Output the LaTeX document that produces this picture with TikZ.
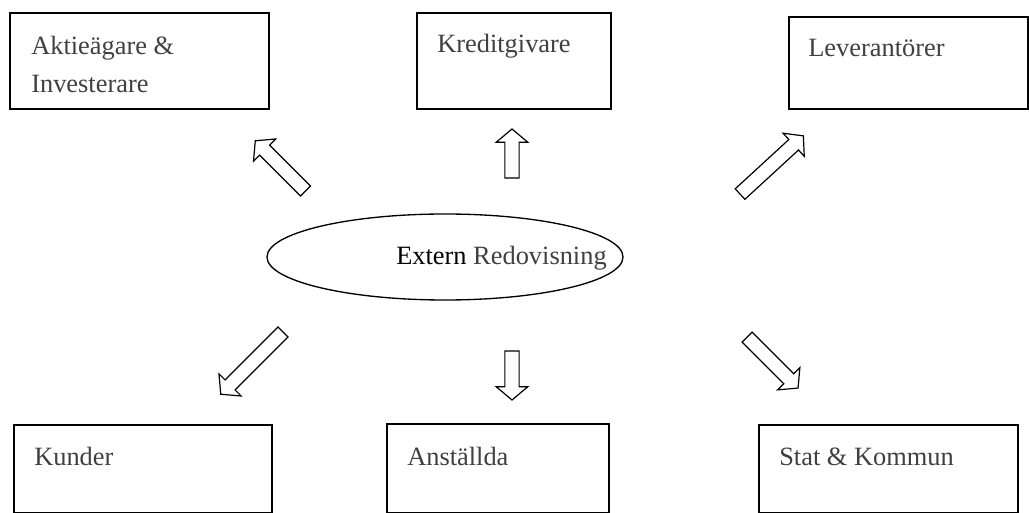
\documentclass[tikz,border=0pt]{standalone}
\usepackage{fontspec}
\setmainfont{Liberation Serif}
\usetikzlibrary{shapes.arrows,shapes.geometric}

\begin{document}
\begin{tikzpicture}[x=0.75pt, y=-0.75pt,
  box/.style={draw, line width=1.2pt, anchor=north west, inner sep=0pt},
  txt/.style={text=black!75, font=\fontsize{19.8}{28.5}\selectfont, anchor=base west, inner sep=0pt, align=left},
  blockarrow/.style={draw, single arrow, line width=0.9pt, inner xsep=0pt, inner ysep=4.9pt,
                     single arrow head extend=6.4pt, single arrow tip angle=100}]

\useasboundingbox (0,0) rectangle (1029,513);

%boxes
\node[box, minimum width=194.25pt, minimum height=72pt] (aktie) at (9,12) {};
\node[box, minimum width=145.5pt, minimum height=72pt] (kredit) at (416,12) {};
\node[box, minimum width=179.25pt, minimum height=69pt] (lever) at (788,16) {};
\node[box, minimum width=193.5pt, minimum height=66pt] (kunder) at (13,424) {};
\node[box, minimum width=166.5pt, minimum height=66.75pt] (anst) at (386,423) {};
\node[box, minimum width=194.25pt, minimum height=66pt] (stat) at (758,424) {};

% base of the last line
\node[txt] (aktietxt) at (31,93) {Aktieägare \&\\Investerare};
\node[txt] (kredittxt) at (437,53) {Kreditgivare};
\node[txt] (levertxt) at (808,57) {Leverantörer};
\node[txt] (kundertxt) at (34,465) {Kunder};
\node[txt] (ansttxt) at (407,465) {Anställda};
\node[txt] (stattxt) at (779,465) {Stat \& Kommun};

%centre
\node[draw, ellipse, line width=1pt, minimum width=267pt, minimum height=64.5pt] (extern) at (445,257) {};
\node[txt] (externtxt) at (396,265) {{\color{black}Extern} Redovisning};

%arrows
\node[blockarrow, minimum height=53.25pt, rotate=135] (a1) at (282.5,168) {};
\node[blockarrow, minimum height=36.75pt, rotate=90] (a2) at (512,156.5) {};
\node[blockarrow, minimum height=64.5pt, rotate=42.6] (a3) at (769.5,167) {};
\node[blockarrow, minimum height=66pt, rotate=225] (a4) at (254,361) {};
\node[blockarrow, minimum height=36.75pt, rotate=270] (a5) at (512,372.5) {};
\node[blockarrow, minimum height=54pt, rotate=315] (a6) at (770.5,360.5) {};

\end{tikzpicture}
\end{document}
